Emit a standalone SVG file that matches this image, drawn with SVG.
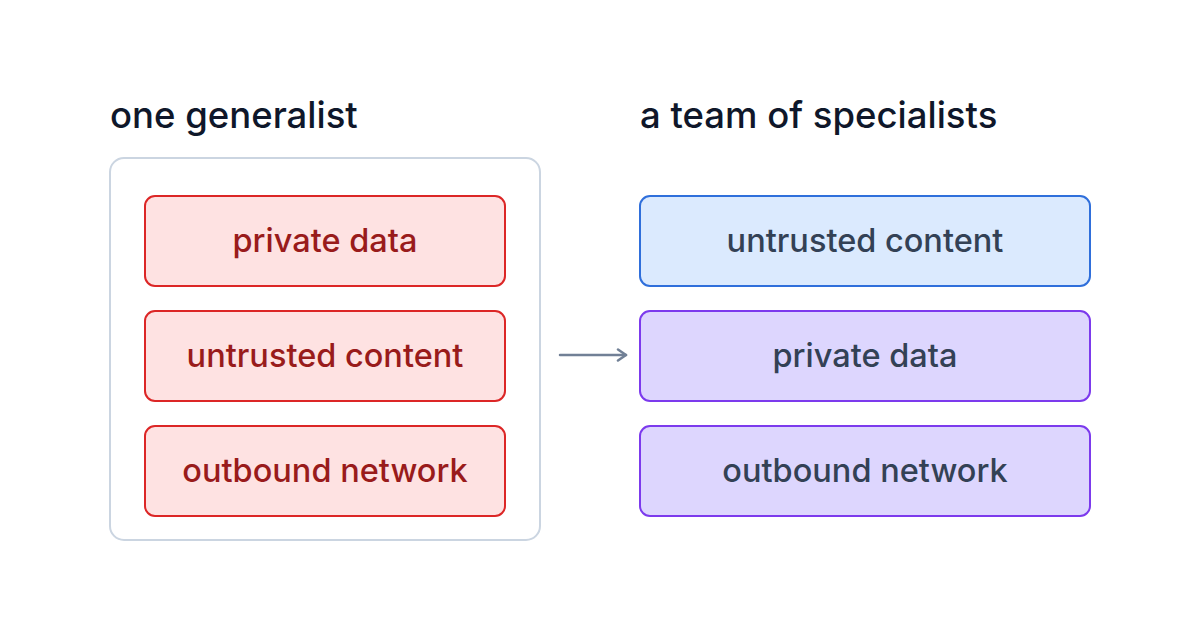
<svg xmlns="http://www.w3.org/2000/svg" width="1200" height="627" viewBox="0 0 1200 627">
<defs>
<style>
.title{font-family:Inter,"Liberation Sans",sans-serif;font-size:36.5px;font-weight:500;fill:#0f172a}
.lbl{font-family:Inter,"Liberation Sans",sans-serif;font-size:32.5px;font-weight:500;text-anchor:middle;dominant-baseline:central}
.red rect{fill:#fee2e2;stroke:#dc2626;stroke-width:2}
.red text{fill:#991b1b}
.blue rect{fill:#dbeafe;stroke:#2f6fdb;stroke-width:2}
.purple rect{fill:#ddd6fe;stroke:#7c3aed;stroke-width:2}
.blue text,.purple text{fill:#334155}
</style>
<marker id="arr" viewBox="0 0 12 14" refX="10" refY="7" markerWidth="12" markerHeight="14" markerUnits="userSpaceOnUse" orient="auto">
<path d="M2,1.5 L10,7 L2,12.5" fill="none" stroke="#718096" stroke-width="2.5" stroke-linecap="round" stroke-linejoin="round"/>
</marker>
</defs>
<rect width="1200" height="627" fill="#ffffff"/>
<text class="title" x="110" y="128">one generalist</text>
<text class="title" x="640" y="128">a team of specialists</text>
<g id="generalist">
<rect x="110" y="158" width="430" height="382" rx="14" fill="#ffffff" stroke="#cbd5e1" stroke-width="2"/>
</g>
<g id="g-private" class="red"><rect x="145" y="196" width="360" height="90" rx="10"/><text class="lbl" x="325" y="240">private data</text></g>
<g id="g-untrusted" class="red"><rect x="145" y="311" width="360" height="90" rx="10"/><text class="lbl" x="325" y="355">untrusted content</text></g>
<g id="g-outbound" class="red"><rect x="145" y="426" width="360" height="90" rx="10"/><text class="lbl" x="325" y="470">outbound network</text></g>
<g id="s-untrusted" class="blue"><rect x="640" y="196" width="450" height="90" rx="10"/><text class="lbl" x="865" y="240">untrusted content</text></g>
<g id="s-private" class="purple"><rect x="640" y="311" width="450" height="90" rx="10"/><text class="lbl" x="865" y="355">private data</text></g>
<g id="s-outbound" class="purple"><rect x="640" y="426" width="450" height="90" rx="10"/><text class="lbl" x="865" y="470">outbound network</text></g>
<g id="connectors">
<line x1="560" y1="355" x2="626" y2="355" stroke="#718096" stroke-width="2.5" stroke-linecap="round" marker-end="url(#arr)"/>
</g>
</svg>
